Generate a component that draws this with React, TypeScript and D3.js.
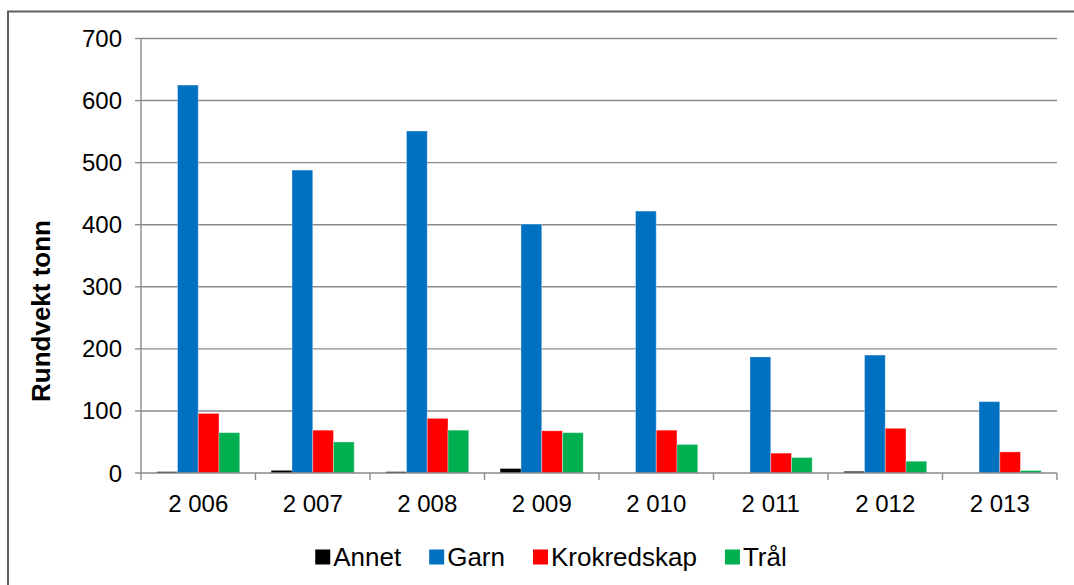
import React from "react";
import * as d3 from "d3";

const years = ["2 006", "2 007", "2 008", "2 009", "2 010", "2 011", "2 012", "2 013"];
const seriesNames = ["Annet", "Garn", "Krokredskap", "Trål"];
const annet = [2, 4, 2, 7, 0, 0, 2.5, 0];
const garn = [625, 488, 551, 401, 422, 187, 190, 115];
const krokredskap = [96, 69, 88, 68, 69, 32, 72, 34];
const tral = [65, 50, 69, 65, 46, 25, 19, 4];
const yTicks = [0, 100, 200, 300, 400, 500, 600, 700];
const colors = ["#000000", "#0070C0", "#FF0000", "#00B050"];
const yLabel = "Rundvekt tonn";

const seriesValues = [annet, garn, krokredskap, tral];

const FONT = "'Liberation Sans', Arial, sans-serif";

function measure(text: string, size: number, weight = "normal") {
  const c = document.createElement("canvas").getContext("2d");
  if (!c) return text.length * size * 0.55;
  c.font = `${weight} ${size}px ${FONT}`;
  return c.measureText(text).width;
}

export default function App() {
  const W = 1074, H = 585;
  const left = 141, right = 1057, top = 38.5, bottom = 473;
  const x0 = d3.scaleBand<string>().domain(years).range([left, right]).padding(0);
  const x1 = d3.scaleBand<string>().domain(seriesNames).range([0, x0.bandwidth()]).paddingInner(0).paddingOuter(0.76);
  const y = d3.scaleLinear().domain([0, 700]).range([bottom, top]);

  // legend layout
  const legFont = 26;
  const sq = 15;
  const gapText = 3;
  const gapItem = 28;
  const widths = seriesNames.map((s) => measure(s, legFont));
  const total = widths.reduce((a, w) => a + sq + gapText + w, 0) + gapItem * (seriesNames.length - 1);
  let cursor = 551 - total / 2;
  const legendItems = seriesNames.map((s, i) => {
    const item = { name: s, x: cursor, color: colors[i] };
    cursor += sq + gapText + widths[i] + gapItem;
    return item;
  });
  const legY = 557;

  const boundaries = years.map((yr) => x0(yr)!).concat([right]);

  return (
    <svg width={W} height={H} style={{ position: "absolute", left: 0, top: 0, background: "#fff" }} fontFamily={FONT}>
      <rect x={0} y={0} width={W} height={H} fill="#fff" />
      {/* frame */}
      <rect x={8} y={11.5} width={1200} height={700} fill="none" stroke="#5f5f5f" strokeWidth={2} />
      {/* gridlines */}
      {yTicks.filter((t) => t > 0).map((t) => (
        <line key={t} x1={left} x2={right} y1={y(t)} y2={y(t)} stroke="#8a8a8a" strokeWidth={1.4} />
      ))}
      {/* y ticks & labels */}
      {yTicks.map((t) => (
        <g key={"yt" + t}>
          <line x1={left - 6} x2={left} y1={y(t)} y2={y(t)} stroke="#8a8a8a" strokeWidth={1.4} />
          <text x={122} y={y(t)} textAnchor="end" dominantBaseline="central" fontSize={24} fill="#000">
            {t}
          </text>
        </g>
      ))}
      {/* bars */}
      {years.map((yr, i) => (
        <g key={yr} transform={`translate(${x0(yr)},0)`}>
          {seriesNames.map((s, j) => {
            const v = seriesValues[j][i];
            if (v <= 0) return null;
            return (
              <rect
                key={s}
                x={x1(s)}
                y={y(v)}
                width={x1.bandwidth()}
                height={bottom - y(v)}
                fill={colors[j]}
                stroke={j === 0 ? "none" : "rgba(255,255,255,0.35)"}
                strokeWidth={1}
              />
            );
          })}
        </g>
      ))}
      {/* axes */}
      <line x1={left} x2={left} y1={top} y2={bottom} stroke="#8a8a8a" strokeWidth={1.4} />
      <line x1={left} x2={right} y1={bottom} y2={bottom} stroke="#8a8a8a" strokeWidth={1.6} />
      {boundaries.map((b, i) => (
        <line key={"xt" + i} x1={b} x2={b} y1={bottom} y2={bottom + 7} stroke="#8a8a8a" strokeWidth={1.4} />
      ))}
      {years.map((yr) => (
        <text key={"xl" + yr} x={x0(yr)! + x0.bandwidth() / 2} y={503} textAnchor="middle" dominantBaseline="central" fontSize={24} fill="#000">
          {yr}
        </text>
      ))}
      {/* y label */}
      <text transform={`translate(41,311) rotate(-90)`} textAnchor="middle" dominantBaseline="central" fontSize={26} fontWeight="bold" fill="#000">
        {yLabel}
      </text>
      {/* legend */}
      {legendItems.map((it) => (
        <g key={it.name}>
          <rect x={it.x} y={legY - sq / 2} width={sq} height={sq} fill={it.color} />
          <text x={it.x + sq + gapText} y={legY} dominantBaseline="central" fontSize={legFont} fill="#000">
            {it.name}
          </text>
        </g>
      ))}
    </svg>
  );
}
